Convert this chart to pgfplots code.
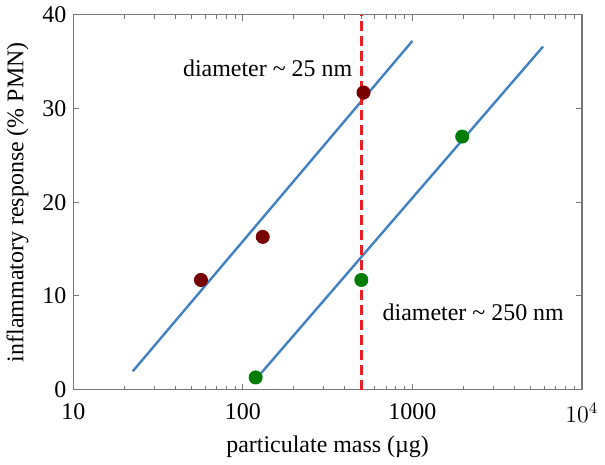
\documentclass[border=0pt]{standalone}
\usepackage{pgfplots}
\pgfplotsset{compat=1.18}
\usepackage{fontspec}
\setmainfont{Liberation Serif}
\definecolor{lineblue}{RGB}{66,128,196}
\definecolor{dotred}{RGB}{120,0,0}
\definecolor{dotgreen}{RGB}{0,125,0}
\definecolor{dashred}{RGB}{235,30,35}
\definecolor{axgray}{RGB}{120,120,120}
\begin{document}
\begin{tikzpicture}
\begin{axis}[
  scale only axis,
  width=255pt, height=188pt,
  xmode=log,
  xmin=10, xmax=10000,
  ymin=0, ymax=40,
  xtick={10,100,1000,10000},
  xticklabels={10,100,1000,$10^4$},
  ytick={0,10,20,30,40},
  /pgf/number format/assume math mode=true,
  tick align=inside,
  major tick length=3pt,
  minor tick length=2pt,
  axis line style={axgray, line width=0.7pt},
  every tick/.style={axgray, line width=0.5pt},
  tick label style={font=\fontsize{12}{14}\selectfont, text=black},
  label style={font=\fontsize{12}{14}\selectfont},
  xlabel={particulate mass (µg)},
  ylabel={inflammatory response (\% PMN)},
  xlabel style={yshift=0pt},
  ylabel style={yshift=0pt},
  xticklabel style={yshift=-3.5pt},
  yticklabel style={xshift=0pt},
  clip=false,
]
\addplot[lineblue, line width=1.2pt] coordinates {(22.4,1.95) (1000,37.2)};
\addplot[lineblue, line width=1.2pt] coordinates {(128,1.75) (5900,36.6)};
\addplot[only marks, mark=*, mark size=3.3pt, dotred, mark options={fill=dotred, draw=dotred}]
  coordinates {(56.6,11.7) (131,16.3) (515,31.7)};
\addplot[only marks, mark=*, mark size=3.3pt, dotgreen, mark options={fill=dotgreen, draw=dotgreen}]
  coordinates {(119,1.3) (500,11.7) (1968,27.0)};
\addplot[dashred, line width=1.5pt, dash pattern=on 5pt off 2.5pt] coordinates {(500,0) (500,40)};
\node[font=\fontsize{12}{14}\selectfont] at (axis cs:140,34.3) {diameter \textasciitilde{} 25 nm};
\node[font=\fontsize{12}{14}\selectfont] at (axis cs:2286,8.3) {diameter \textasciitilde{} 250 nm};
\end{axis}
\end{tikzpicture}
\end{document}
